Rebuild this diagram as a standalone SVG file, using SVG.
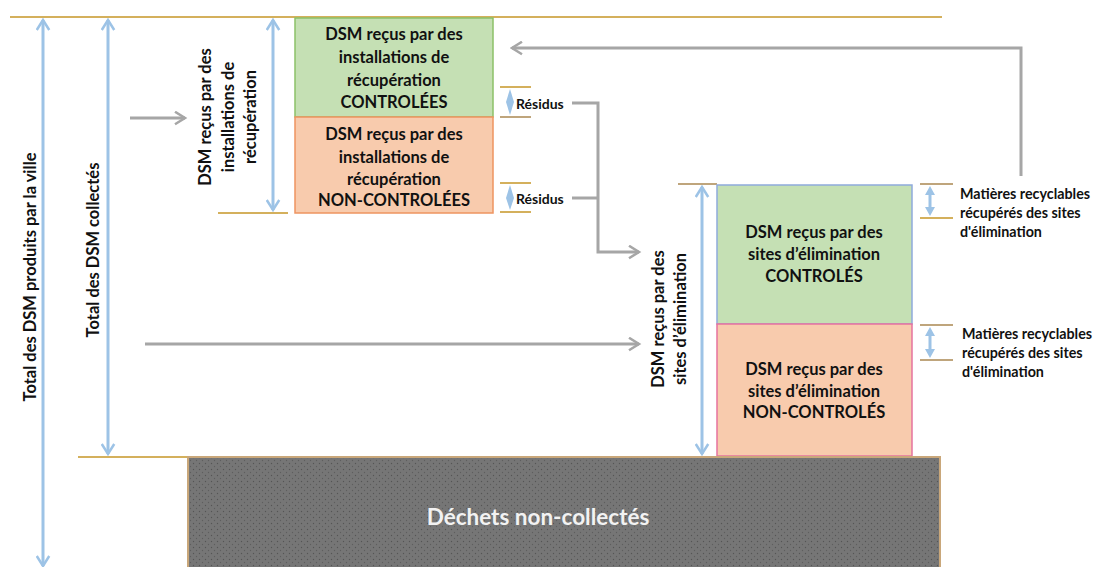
<svg xmlns="http://www.w3.org/2000/svg" width="1096" height="567" viewBox="0 0 1096 567">
  <defs>
    <style>
      .t { font-family: Lato, "Open Sans", "Liberation Sans", sans-serif; font-weight: bold; fill: #111; }
      .box { font-size: 16.5px; text-anchor: middle; }
      .side { font-size: 16.5px; text-anchor: middle; }
      .small { font-size: 14px; }
      .note { font-size: 14.3px; }
      .gold { stroke: #D4B05C; stroke-width: 2; fill: none; }
      .tan { stroke: #BFA57C; stroke-width: 2; fill: none; }
      .dim { stroke: #9DC3E6; stroke-width: 3; fill: none; marker-start: url(#bStart); marker-end: url(#bEnd); }
      .flow { stroke: #A6A6A6; stroke-width: 3; fill: none; }
    </style>
    <marker id="bEnd" viewBox="0 0 12 12" refX="10" refY="6" markerWidth="5" markerHeight="5" orient="auto" markerUnits="strokeWidth">
      <path d="M2,1 L10,6 L2,11" fill="none" stroke="#9DC3E6" stroke-width="2"/>
    </marker>
    <marker id="bStart" viewBox="0 0 12 12" refX="2" refY="6" markerWidth="5" markerHeight="5" orient="auto" markerUnits="strokeWidth">
      <path d="M10,1 L2,6 L10,11" fill="none" stroke="#9DC3E6" stroke-width="2"/>
    </marker>
    <marker id="gEnd" viewBox="0 0 12 12" refX="10" refY="6" markerWidth="5" markerHeight="5" orient="auto" markerUnits="strokeWidth">
      <path d="M2,1 L10,6 L2,11" fill="none" stroke="#A6A6A6" stroke-width="2"/>
    </marker>
    <pattern id="dots" width="6" height="6" patternUnits="userSpaceOnUse">
      <rect width="6" height="6" fill="#767676"/>
      <circle cx="1.5" cy="1.5" r="0.7" fill="#555"/>
      <circle cx="4.5" cy="4.5" r="0.7" fill="#5e5e5e"/>
    </pattern>
  </defs>

  <rect width="1096" height="567" fill="#fff"/>

  <!-- reference lines -->
  <g id="guides">
    <line class="gold" x1="10" y1="17" x2="942" y2="17"/>
    <line class="gold" x1="78" y1="457" x2="188" y2="457"/>
    <line class="gold" x1="218" y1="213" x2="288" y2="213"/>
    <line class="tan" x1="678" y1="184" x2="717" y2="184"/>
    <line class="gold" x1="500" y1="87" x2="531" y2="87"/>
    <line class="tan" x1="500" y1="117" x2="531" y2="117"/>
    <line class="gold" x1="500" y1="183" x2="531" y2="183"/>
    <line class="gold" x1="500" y1="212" x2="531" y2="212"/>
    <line class="tan" x1="920" y1="184" x2="953" y2="184"/>
    <line class="gold" x1="920" y1="218" x2="953" y2="218"/>
    <line class="tan" x1="920" y1="325" x2="953" y2="325"/>
    <line class="tan" x1="920" y1="360" x2="953" y2="360"/>
  </g>

  <!-- dimension arrows -->
  <g id="dimensions">
    <line class="dim" x1="43" y1="20" x2="43" y2="566"/>
    <line class="dim" x1="108" y1="20" x2="108" y2="454"/>
    <line class="dim" x1="273" y1="20" x2="273" y2="210"/>
    <line class="dim" x1="702" y1="187" x2="702" y2="454"/>
    <!-- small residue / recycling markers -->
    <path d="M510,89 L514,102 L510,115 L506,102 Z" fill="#9DC3E6"/>
    <path d="M510,185 L514,198 L510,210 L506,198 Z" fill="#9DC3E6"/>
    <path d="M930,186 L935,195 L931.5,195 L931.5,207 L935,207 L930,216 L925,207 L928.5,207 L928.5,195 L925,195 Z" fill="#9DC3E6"/>
    <path d="M930,327 L935,336 L931.5,336 L931.5,349 L935,349 L930,358 L925,349 L928.5,349 L928.5,336 L925,336 Z" fill="#9DC3E6"/>
  </g>

  <!-- connectors -->
  <g id="connectors">
    <line class="flow" x1="130" y1="118" x2="185" y2="118" marker-end="url(#gEnd)"/>
    <line class="flow" x1="145" y1="344" x2="639" y2="344" marker-end="url(#gEnd)"/>
    <polyline class="flow" points="572,103 598,103 598,252 639,252" marker-end="url(#gEnd)"/>
    <line class="flow" x1="572" y1="198" x2="598" y2="198"/>
    <polyline class="flow" points="1021,176 1021,48 512,48" marker-end="url(#gEnd)"/>
  </g>

  <!-- rotated side labels -->
  <g id="label-total-ville">
    <text class="t side" transform="translate(36,277) rotate(-90)">Total des DSM produits par la ville</text>
  </g>
  <g id="label-total-collectes">
    <text class="t side" transform="translate(99,250) rotate(-90)">Total des DSM collectés</text>
  </g>
  <g id="label-recuperation">
    <text class="t side" transform="translate(211,117) rotate(-90)">DSM reçus par des</text>
    <text class="t side" transform="translate(234,117) rotate(-90)">installations de</text>
    <text class="t side" transform="translate(256,117) rotate(-90)">récupération</text>
  </g>
  <g id="label-elimination">
    <text class="t side" transform="translate(664,319) rotate(-90)">DSM reçus par des</text>
    <text class="t side" transform="translate(686,319) rotate(-90)">sites d’élimination</text>
  </g>

  <!-- recovery facilities -->
  <g id="recup-controlees">
    <rect x="295" y="18" width="198" height="99" fill="#C5E0B4" stroke="#8CC168" stroke-width="1.5"/>
    <text class="t box" x="394" y="40">DSM reçus par des</text>
    <text class="t box" x="394" y="63">installations de</text>
    <text class="t box" x="394" y="86">récupération</text>
    <text class="t box" x="394" y="108">CONTROLÉES</text>
  </g>
  <g id="recup-non-controlees">
    <rect x="295" y="117" width="198" height="96" fill="#F8CBAD" stroke="#EE9460" stroke-width="1.5"/>
    <text class="t box" x="394" y="140">DSM reçus par des</text>
    <text class="t box" x="394" y="163">installations de</text>
    <text class="t box" x="394" y="185">récupération</text>
    <text class="t box" x="394" y="206">NON-CONTROLÉES</text>
  </g>

  <!-- disposal sites -->
  <g id="elim-controles">
    <rect x="717" y="185" width="195" height="139" fill="#C5E0B4" stroke="#8FAADC" stroke-width="1.5"/>
    <text class="t box" x="814" y="238">DSM reçus par des</text>
    <text class="t box" x="814" y="260">sites d’élimination</text>
    <text class="t box" x="814" y="282">CONTROLÉS</text>
  </g>
  <g id="elim-non-controles">
    <rect x="717" y="324" width="195" height="132" fill="#F8CBAD" stroke="#E6739F" stroke-width="1.5"/>
    <text class="t box" x="814" y="375">DSM reçus par des</text>
    <text class="t box" x="814" y="397">sites d’élimination</text>
    <text class="t box" x="814" y="418">NON-CONTROLÉS</text>
  </g>

  <!-- small labels -->
  <g id="residus-1"><text class="t small" x="516" y="109">Résidus</text></g>
  <g id="residus-2"><text class="t small" x="516" y="204">Résidus</text></g>
  <g id="recyclables-1">
    <text class="t note" x="960" y="199">Matières recyclables</text>
    <text class="t note" x="960" y="218">récupérés des sites</text>
    <text class="t note" x="960" y="237">d'élimination</text>
  </g>
  <g id="recyclables-2">
    <text class="t note" x="962" y="339">Matières recyclables</text>
    <text class="t note" x="962" y="358">récupérés des sites</text>
    <text class="t note" x="962" y="377">d'élimination</text>
  </g>

  <!-- uncollected waste -->
  <g id="non-collectes">
    <rect x="188" y="457" width="752" height="112" fill="url(#dots)" stroke="#C9A77A" stroke-width="2"/>
    <text x="538" y="525" text-anchor="middle" font-family="Lato, 'Open Sans', 'Liberation Sans', sans-serif" font-weight="bold" font-size="22.5" fill="#F2F2F2">Déchets non-collectés</text>
  </g>
</svg>
